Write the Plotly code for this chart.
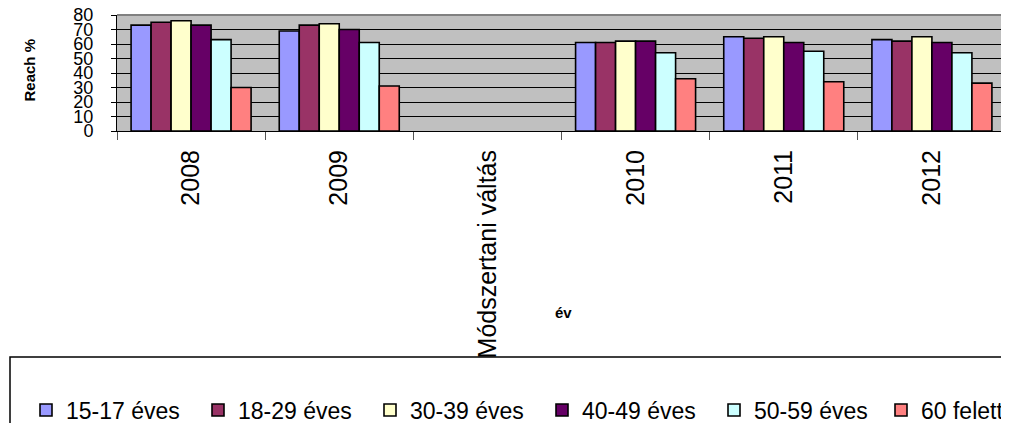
import plotly.graph_objects as go

years = ["2008", "2009", "Módszertani váltás", "2010", "2011", "2012"]
series_names = ["15-17 éves", "18-29 éves", "30-39 éves", "40-49 éves", "50-59 éves", "60 felett"]
v15_17 = [73, 69, None, 61, 65, 63]
v18_29 = [75, 73, None, 61, 64, 62]
v30_39 = [76, 74, None, 62, 65, 65]
v40_49 = [73, 70, None, 62, 61, 61]
v50_59 = [63, 61, None, 54, 55, 54]
v60 = [30, 31, None, 36, 34, 33]
colors = ["#9999FF", "#993366", "#FFFFCC", "#660066", "#CCFFFF", "#FF8080"]
y_ticks = [0, 10, 20, 30, 40, 50, 60, 70, 80]

FONT = "Liberation Sans, Arial, sans-serif"
OFF = 8  # default page body margin
W, H = 1009 - OFF, 423 - OFF
L, R, T, B = 117 - OFF, 3, 15 - OFF, 292
PW = W - L - R
PH = H - T - B

def px_x(x):  # reference pixel -> paper
    return (x - OFF - L) / PW

def px_y(y):
    return (H - B - (y - OFF)) / PH

def cx(x):  # reference pixel -> container
    return (x - OFF) / W

def cy(y):
    return (H - (y - OFF)) / H

fig = go.Figure()
for i, (name, vals, col) in enumerate(zip(series_names, [v15_17, v18_29, v30_39, v40_49, v50_59, v60], colors)):
    fig.add_trace(go.Bar(
        x=years, y=vals, name=name,
        marker=dict(color=col, line=dict(color="black", width=1.6)),
        legend="legend" if i < 5 else "legend2",
    ))

legend_common = dict(
    orientation="h", yref="container", y=cy(410), yanchor="middle",
    font=dict(family=FONT, size=23, color="black"),
    bgcolor="rgba(0,0,0,0)", borderwidth=0,
    itemclick=False, traceorder="normal",
)

fig.update_layout(
    width=W, height=H,
    margin=dict(l=L, r=R, t=T, b=B, autoexpand=False),
    paper_bgcolor="white",
    plot_bgcolor="#C0C0C0",
    barmode="group", bargap=0.19, bargroupgap=0,
    font=dict(family=FONT, color="black"),
    showlegend=True,
    legend=dict(legend_common, xref="container", x=cx(26), xanchor="left",
                entrywidth=127, entrywidthmode="pixels"),
    legend2=dict(legend_common, xref="container", x=cx(881), xanchor="left"),
    xaxis=dict(
        type="category", categoryorder="array", categoryarray=years,
        tickangle=-90, tickfont=dict(family=FONT, size=25, color="black"),
        ticks="outside", tickson="boundaries", ticklen=8, tickcolor="#555555",
        showline=True, linecolor="black", linewidth=1,
        showgrid=False, automargin=False, ticklabelstandoff=8,
        ticklabeloverflow="allow",
    ),
    yaxis=dict(
        range=[0, 80], tickvals=y_ticks, ticksuffix="%",
        tickfont=dict(family=FONT, size=18, color="black"),
        ticks="outside", ticklen=5, tickcolor="black",
        showline=True, linecolor="black", linewidth=1,
        showgrid=True, gridcolor="black", gridwidth=1,
        zeroline=False, automargin=False, ticklabelstandoff=14,
        ticklabeloverflow="allow",
    ),
    shapes=[
        dict(type="line", xref="paper", yref="paper", x0=0, x1=1, y0=1, y1=1,
             line=dict(color="#808080", width=2)),
        dict(type="line", xref="paper", yref="paper", x0=1, x1=1, y0=0, y1=1,
             line=dict(color="#808080", width=3)),
        dict(type="rect", xref="paper", yref="paper",
             x0=px_x(10), x1=px_x(1030), y0=px_y(357), y1=px_y(440),
             line=dict(color="black", width=1.5), fillcolor="rgba(0,0,0,0)", layer="below"),
    ],
    annotations=[
        dict(text="<b>Reach %</b>", xref="paper", yref="paper", x=px_x(18), y=px_y(70),
             textangle=-90, showarrow=False, font=dict(family=FONT, size=15, color="black")),
        dict(text="<b>év</b>", xref="paper", yref="paper", x=px_x(563), y=px_y(323),
             showarrow=False, font=dict(family=FONT, size=15, color="black")),
    ],
)

fig.write_html("out.html")
